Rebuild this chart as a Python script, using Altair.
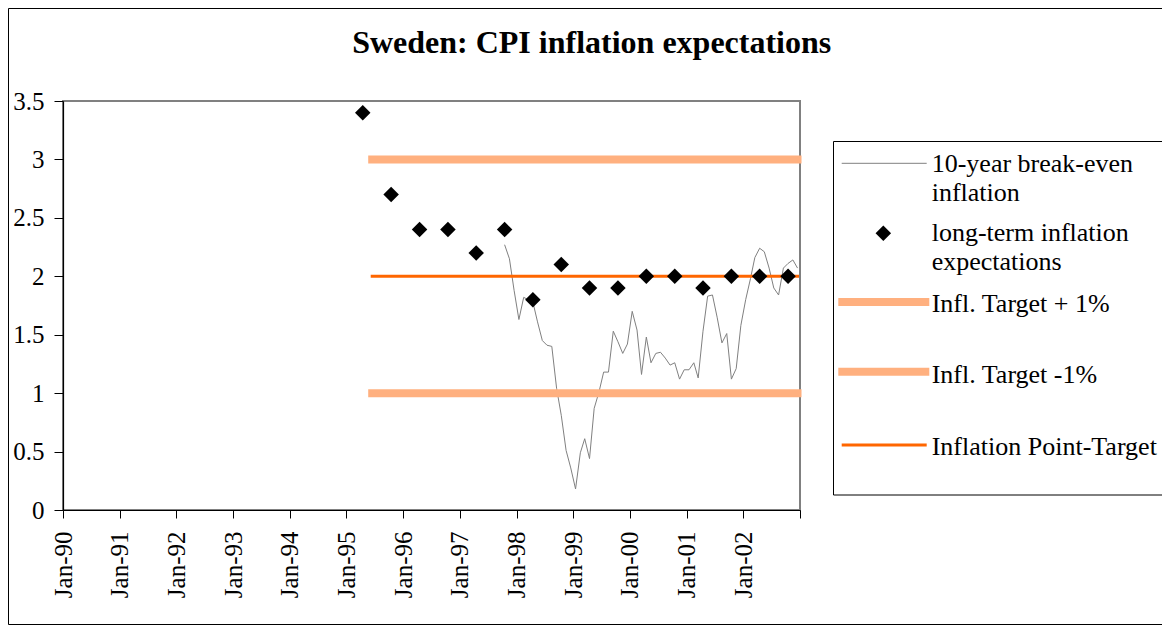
import altair as alt
import pandas as pd

# ---------------- data ----------------
# 10-year break-even inflation, monthly Oct-1997 .. Dec-2002
be_start = "1997-10"
be_values = [2.27, 2.15, 1.88, 1.63, 1.82, 1.80, 1.78, 1.61, 1.45, 1.41,
             1.40, 1.04, 0.81, 0.51, 0.36, 0.18, 0.49, 0.61, 0.44, 0.87,
             1.01, 1.18, 1.18, 1.53, 1.44, 1.34, 1.42, 1.70, 1.54, 1.16,
             1.48, 1.26, 1.34, 1.35, 1.30, 1.24, 1.26, 1.12, 1.20, 1.20,
             1.26, 1.13, 1.53, 1.83, 1.84, 1.65, 1.43, 1.51, 1.12, 1.21,
             1.58, 1.80, 1.98, 2.16, 2.24, 2.21, 2.07, 1.90, 1.84, 2.07,
             2.11, 2.14, 2.07]

# long-term inflation expectations (survey), semi-annual
exp_months = ["1995-04", "1995-10", "1996-04", "1996-10", "1997-04", "1997-10",
              "1998-04", "1998-10", "1999-04", "1999-10", "2000-04", "2000-10",
              "2001-04", "2001-10", "2002-04", "2002-10"]
exp_values = [3.4, 2.7, 2.4, 2.4, 2.2, 2.4, 1.8, 2.1, 1.9, 1.9,
              2.0, 2.0, 1.9, 2.0, 2.0, 2.0]

# inflation target and tolerance band
target_months = ["1995-06", "2002-12"]
target_point = 2.0
target_upper = 3.0
target_lower = 1.0

series_names = ["10-year break-even inflation", "long-term inflation expectations",
                "Infl. Target + 1%", "Infl. Target -1%", "Inflation Point-Target"]
title_text = "Sweden: CPI inflation expectations"

# ---------------- tables ----------------
def mid(m):
    return m + "-16"

be_months = pd.date_range(be_start + "-01", periods=len(be_values), freq="MS")
df_be = pd.DataFrame({"date": [d.strftime("%Y-%m-16") for d in be_months],
                      "value": be_values})
df_exp = pd.DataFrame({"date": [mid(m) for m in exp_months], "value": exp_values})
df_up = pd.DataFrame({"date": [mid(m) for m in target_months], "value": [target_upper] * 2})
df_lo = pd.DataFrame({"date": [mid(m) for m in target_months], "value": [target_lower] * 2})
df_pt = pd.DataFrame({"date": [mid(m) for m in target_months], "value": [target_point] * 2})
one = pd.DataFrame({"k": [0]})

FONT = "Liberation Serif"
BAND = "#FFB07F"
ORANGE = "#FF6600"
GRAY = "#808080"

year_ticks = [alt.DateTime(year=y, month=1, date=1, utc=True) for y in range(1990, 2004)]

x_enc = alt.X(
    "date:T",
    title=None,
    scale=alt.Scale(type="utc",
                    domain=[alt.DateTime(year=1990, month=1, date=1, utc=True),
                            alt.DateTime(year=2003, month=1, date=1, utc=True)]),
    axis=alt.Axis(values=year_ticks, labelAngle=270, tickSize=8, labelPadding=13,
                  labelExpr="utcyear(datum.value) > 2002 ? '' : utcFormat(datum.value, '%b-%y')",
                  grid=False),
)
y_enc = alt.Y(
    "value:Q",
    title=None,
    scale=alt.Scale(domain=[0, 3.5], nice=False),
    axis=alt.Axis(values=[0, 0.5, 1, 1.5, 2, 2.5, 3, 3.5], format="~g",
                  tickSize=9, labelPadding=10, grid=False),
)

# ---------------- decoration (frame, legend, title) ----------------
frame = alt.Chart(one).mark_rect(filled=False, stroke="black", strokeWidth=1).encode(
    x=alt.value(-54.5), x2=alt.value(1300), y=alt.value(-92.5), y2=alt.value(523.5))

legend_box = alt.Chart(one).mark_rect(fill="white", stroke="black", strokeWidth=1).encode(
    x=alt.value(770.5), x2=alt.value(1300), y=alt.value(40.5), y2=alt.value(394))

title = alt.Chart(one).mark_text(text=title_text, font=FONT, fontSize=32, fontWeight="bold",
                                 align="center", baseline="alphabetic", color="black").encode(
    x=alt.value(528.7), y=alt.value(-47.7))

leg_layers = []
leg_layers.append(alt.Chart(one).mark_rule(color=GRAY, strokeWidth=1).encode(
    x=alt.value(778.7), x2=alt.value(863.7), y=alt.value(62.3)))
leg_layers.append(alt.Chart(one).mark_point(shape="diamond", filled=True, size=240,
                                            color="black", opacity=1).encode(
    x=alt.value(820.3), y=alt.value(132.3)))
leg_layers.append(alt.Chart(one).mark_rule(color=BAND, strokeWidth=8).encode(
    x=alt.value(775.3), x2=alt.value(866.3), y=alt.value(201)))
leg_layers.append(alt.Chart(one).mark_rule(color=BAND, strokeWidth=8).encode(
    x=alt.value(775.3), x2=alt.value(866.3), y=alt.value(270.7)))
leg_layers.append(alt.Chart(one).mark_rule(color=ORANGE, strokeWidth=3).encode(
    x=alt.value(778.7), x2=alt.value(863.7), y=alt.value(344)))

leg_texts = [
    (["10-year break-even", "inflation"], 71),
    (["long-term inflation", "expectations"], 140),
    ([series_names[2]], 210.7),
    ([series_names[3]], 282.3),
    ([series_names[4]], 354),
]
for txt, yb in leg_texts:
    leg_layers.append(alt.Chart(one).mark_text(text=txt, font=FONT, fontSize=26, lineHeight=29.3,
                                               align="left", baseline="alphabetic",
                                               color="black").encode(
        x=alt.value(868.7), y=alt.value(yb)))

# ---------------- data layers ----------------
be_line = alt.Chart(df_be).mark_line(color=GRAY, strokeWidth=1).encode(x=x_enc, y=y_enc)
band_up = alt.Chart(df_up).mark_line(color=BAND, strokeWidth=8, strokeCap="square").encode(x=x_enc, y=y_enc)
band_lo = alt.Chart(df_lo).mark_line(color=BAND, strokeWidth=8, strokeCap="square").encode(x=x_enc, y=y_enc)
pt_line = alt.Chart(df_pt).mark_line(color=ORANGE, strokeWidth=3, strokeCap="square").encode(x=x_enc, y=y_enc)
diamonds = alt.Chart(df_exp).mark_point(shape="diamond", filled=True, size=240, color="black",
                                        opacity=1).encode(x=x_enc, y=y_enc)

chart = alt.layer(
    frame, be_line, band_up, band_lo, pt_line, diamonds, legend_box, *leg_layers, title
).properties(
    width=737, height=409,
    padding={"left": 55, "top": 93, "right": 362, "bottom": 115},
    autosize=alt.AutoSizeParams(type="none"),
    background="white",
).configure_view(
    stroke=GRAY, strokeWidth=2
).configure_axis(
    labelFont=FONT, labelFontSize=25, labelColor="black",
    domainColor="black", domainWidth=1.2, tickColor="black", tickWidth=1,
)

chart.save("out.html", embed_options={"renderer": "svg", "actions": False})
